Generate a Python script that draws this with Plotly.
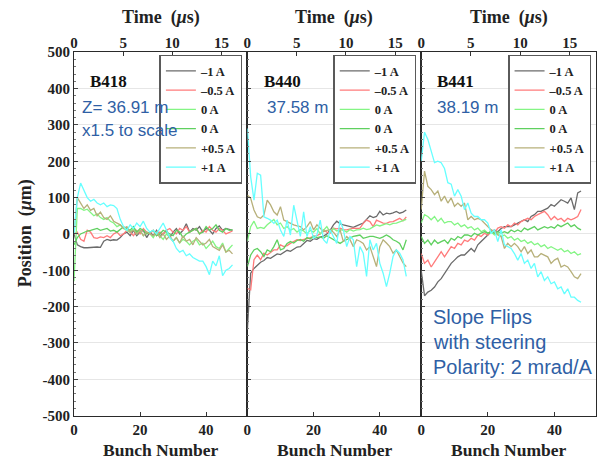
import plotly.graph_objects as go

# ---------------- data ----------------
bunch = list(range(49))
series_labels = ["–1 A", "–0.5 A", "0 A", "0 A", "+0.5 A", "+1 A"]
panel_names = ["B418", "B440", "B441"]
panel_notes = [["Z= 36.91 m", "x1.5 to scale"], ["37.58 m"], ["38.19 m"]]
side_notes = ["Slope Flips", "with steering", "Polarity: 2 mrad/A"]
y_tickvals = [-500, -400, -300, -200, -100, 0, 100, 200, 300, 400, 500]
y_ticktext = ["-500", "-400", "-300", "-200", "-100", "0", "100", "200", "300", "400", "500"]
bunch_ticks = [0, 20, 40]
time_ticks = [0, 5, 10, 15]

# B418
b418_m1 = [0, -30, -35, -38, -38, -37, -38, -36, -37, -20, -15, -18, -16, -17, -10, 0, 5, -5, 10, -5,
           5, 10, -10, 5, -5, 10, -5, 0, 10, -10, 5, 15, 0, 10, 28, 5, 15, 10, 20, 5,
           15, 10, 0, 15, 22, 10, 15, 12, 10]
b418_m05 = [0, 5, -15, -20, 10, 5, -10, -12, -8, -10, -5, -10, 0, 5, -5, 0, 10, 5, -5, 10,
            0, 15, 5, 0, 10, -5, 5, 0, 10, 15, 5, 0, 15, 10, 20, 5, 10, 15, 0, 10,
            5, 20, 10, 5, 15, 10, 0, 5, 8]
b418_0a = [-130, 70, 70, 65, 68, 60, 50, 55, 45, 40, 45, 35, 30, 20, 25, 15, 10, 5, 15, 0,
           10, -5, 5, 0, -10, 5, -5, -15, 0, -10, -20, -10, -25, -15, -20, -30, -20, -15, -30, -25,
           -40, -30, -20, -35, -40, -25, -50, -40, -30]
b418_0b = [-30, -10, 0, 5, 8, 10, 12, 15, 10, 12, 15, 8, 10, 5, 12, 20, 15, 10, 20, 5,
           15, 10, 0, 5, 10, -5, 0, 10, 5, 0, -5, 10, 5, -10, 0, 5, 10, 15, 0, 5,
           20, 10, 15, 25, 10, 5, 15, 10, 12]
b418_p05 = [0, 100, 85, 70, 80, 65, 70, 50, 60, 45, 40, 50, 35, 30, 25, 15, 20, 5, 10, 0,
            10, -5, 5, 0, -5, 5, -10, 0, -15, -5, -20, -10, -25, -5, -20, -15, -30, -10, -20, -30,
            -25, -15, -35, -40, -45, -30, -50, -45, -55]
b418_p1 = [0, 100, 140, 120, 100, 90, 95, 85, 80, 85, 75, 80, 78, 70, 40, 20, 10, 25, 15, 30,
           20, 35, 15, 5, 10, 0, 15, 30, 10, -10, -20, -40, -50, -45, -60, -55, -65, -70, -75, -75,
           -90, -112, -75, -88, -60, -115, -100, -95, -85]

# B440
b440_m1 = [-264, -108, -95, -85, -78, -73, -65, -67, -60, -55, -57, -50, -45, -48, -42, -36, -35, -25, -18, -20,
           -13, -15, -9, -6, 0, 10, 25, 35, 28, 25, 22, 20, 18, 22, 25, 30, 40, 50, 45, 48,
           62, 52, 57, 55, 58, 62, 57, 60, 66]
b440_m05 = [-150, -154, -71, -58, -71, -53, -58, -50, -44, -44, -30, -35, -32, -26, -22, -16, -18, -16, -14, -10,
            -7, -5, 0, 11, 5, 2, 16, 14, 16, 12, 11, 14, 16, 15, 16, 29, 38, 34, 20, 38,
            34, 30, 29, 33, 34, 38, 43, 36, 47]
b440_0a = [-20, 20, 35, 15, 18, 15, 25, 32, 40, 25, 30, 15, 20, 10, 15, 5, 12, 8, 0, 10,
           5, 15, 0, 10, 20, 5, 15, 8, 12, 10, 5, 12, 8, 11, 12, 16, 12, 14, 20, 25,
           22, 24, 28, 25, 29, 30, 34, 36, 40]
b440_0b = [-90, -58, -44, -40, -49, -62, -44, -49, -35, -16, -44, -40, -26, -21, -25, -18, -15, -20, -10, -14,
           -6, -10, -8, -12, -5, -10, -16, -20, -26, -20, -16, -10, -7, -5, -3, -12, -9, -7, -7, -10,
           -12, -8, -3, -8, -16, -20, -26, -44, -16]
b440_p05 = [107, 98, 66, 47, 43, 52, 93, 80, 61, 52, 75, 38, 34, 29, 25, 22, 20, 11, 20, 34,
            11, 25, 15, 6, 10, 11, 5, -7, 11, -21, -7, -16, -35, -16, -20, -26, -44, -35, -62, -90,
            -35, -16, -25, -35, -53, -44, -62, -80, -90]
b440_p1 = [290, 157, 93, 167, 162, 47, 43, 38, 29, 38, 11, -7, 38, -3, 79, 34, -7, 61, -7, 20,
           -12, -3, 38, -16, -26, 11, -7, -26, 38, 11, -35, -7, -16, -90, -35, -53, -117, -16, -44, -26,
           -81, -108, -145, -108, -62, -44, -53, -71, -117]

# B441
b441_m1 = [-100, -170, -160, -155, -146, -132, -123, -109, -95, -81, -72, -63, -58, -58, -49, -40, -49, -30, -21, -12,
           -3, 6, 11, 6, 15, 20, 20, 20, 25, 30, 34, 39, 34, 48, 53, 62, 62, 67, 71, 81,
           76, 85, 94, 90, 85, 99, 67, 113, 118]
b441_m05 = [-54, -81, -72, -91, -77, -63, -49, -63, -49, -35, -40, -26, -30, -17, -21, -12, -17, -3, -7, 2,
            -3, 11, 2, 16, 20, 16, 25, 20, 30, 25, 34, 39, 43, 39, 48, 53, 57, 62, 53, 39,
            48, 39, 43, 34, 43, 39, 43, 48, 67]
b441_0a = [30, 53, 48, 39, 48, 34, 43, 30, 34, 34, 25, 30, 20, 25, 16, 20, 11, 16, 6, 11,
           2, 6, -3, 2, -7, -3, -12, -7, -17, -12, -21, -17, -26, -21, -30, -26, -35, -30, -40, -35,
           -40, -45, -40, -49, -45, -54, -49, -58, -54]
b441_0b = [-7, -26, -17, -30, -17, -26, -21, -17, -26, -12, -17, -7, -12, -3, -3, -7, 2, -3, 2, 6,
           2, 6, 2, 6, 2, 6, 2, 11, 6, 11, 6, 16, 11, 16, 20, 11, 16, 20, 16, 20,
           16, 25, 20, 25, 30, 20, 25, 16, 11]
b441_p05 = [67, 173, 131, 122, 108, 118, 90, 104, 85, 99, 76, 85, 76, 85, 39, 48, 39, 43, 39, 30,
            20, 11, 7, -3, -7, -40, -26, -35, -26, -35, -49, -35, -54, -44, -63, -63, -54, -58, -63, -81,
            -72, -67, -91, -86, -91, -104, -118, -123, -109]
b441_p1 = [200, 280, 260, 225, 196, 200, 196, 180, 141, 137, 104, 122, 104, 67, 85, 57, 48, 48, 39, 39,
           30, 2, 11, -21, 11, -30, -35, -40, -54, -72, -54, -81, -72, -95, -81, -118, -104, -128, -118, -137,
           -132, -151, -146, -165, -151, -174, -174, -183, -188]

panels = [
    [b418_m1, b418_m05, b418_0a, b418_0b, b418_p05, b418_p1],
    [b440_m1, b440_m05, b440_0a, b440_0b, b440_p05, b440_p1],
    [b441_m1, b441_m05, b441_0a, b441_0b, b441_p05, b441_p1],
]

# ---------------- style / layout ----------------
W, H = 600, 464
colors = ["#6b6b6b", "#ff7b7b", "#84f584", "#5fd05f", "#b7b07a", "#66ffff"]
px_edges = [70.5, 245, 420, 596]
top_px, bot_px = 45.8, 422.2
bunch_range = [0, 52.5]
time_range = [0, 17.64]
blue = "#2f5fa5"
serif = "Liberation Serif"
tick_font = dict(family=serif, size=15, color="#222222", weight="bold")

def px(x):
    return x / W

def py(y):
    return 1 - y / H

fig = go.Figure()
layout = dict(width=W, height=H, autosize=False, margin=dict(l=0, r=0, t=0, b=0, pad=0),
              paper_bgcolor="white", plot_bgcolor="white", showlegend=True)

for i, series in enumerate(panels):
    n = "" if i == 0 else str(i + 1)
    xa, ya = "x" + n, "y" + n
    ta = "x" + str(i + 4)
    leg = "legend" + n
    for s, vals in enumerate(series):
        fig.add_trace(go.Scatter(x=bunch, y=vals, mode="lines", name=series_labels[s],
                                 line=dict(color=colors[s], width=1.3),
                                 xaxis=xa, yaxis=ya, legend=leg))
    fig.add_trace(go.Scatter(x=[None], y=[None], xaxis=ta, yaxis=ya, showlegend=False,
                             hoverinfo="skip"))
    dom = [px(px_edges[i]), px(px_edges[i + 1])]
    layout["xaxis" + n] = dict(domain=dom, range=bunch_range, tickvals=bunch_ticks, anchor=ya,
                               showline=True, linecolor="#2a2a2a", linewidth=1.2, mirror=True,
                               ticks="inside", ticklen=4, tickcolor="#333", showgrid=False,
                               zeroline=False, tickfont=tick_font)
    layout["yaxis" + n] = dict(domain=[py(bot_px), py(top_px)], range=[-500, 500],
                               tickmode="array", tickvals=y_tickvals, ticktext=y_ticktext,
                               showticklabels=(i == 0), anchor=xa,
                               showline=True, linecolor="#2a2a2a", linewidth=1.2, mirror=True,
                               ticks="inside", ticklen=4, tickcolor="#444",
                               minor=dict(ticks="inside", ticklen=2, tickcolor="#777", dtick=20,
                                          showgrid=False),
                               showgrid=True, gridcolor="#e6e6e6", gridwidth=1,
                               zeroline=False, tickfont=tick_font)
    layout["xaxis" + str(i + 4)] = dict(overlaying=xa, anchor=ya, side="top", range=time_range,
                                        tickvals=time_ticks, ticks="inside", ticklen=4,
                                        tickcolor="#333", showline=False, showgrid=False,
                                        zeroline=False, tickfont=tick_font)
    layout[leg] = dict(x=px(px_edges[i + 1] - 5), y=py(48.4), xanchor="right", yanchor="top",
                       xref="paper", yref="paper",
                       bgcolor="white", bordercolor="#5a5a5a", borderwidth=1.5,
                       font=dict(family=serif, size=12.5, color="#222", weight="bold"),
                       itemwidth=30, tracegroupgap=0)

annotations = []
centers = [(px_edges[i] + px_edges[i + 1]) / 2 for i in range(3)]

def ann(x, y, text, font, xanchor="center", **kw):
    d = dict(x=px(x), y=py(y), xref="paper", yref="paper", text=text, showarrow=False,
             xanchor=xanchor, yanchor="middle", font=font)
    d.update(kw)
    return d

title_font = dict(family=serif, size=18, color="#222")
for i in range(3):
    annotations.append(ann(centers[i], 9.5, "<b>Time  (<i>μ</i>s)</b>", title_font))
    annotations.append(ann(centers[i], 458, "<b>Bunch Number</b>",
                           dict(family=serif, size=17.5, color="#222")))
annotations.append(ann(22, 233.5, "<b>Position  (<i>μ</i>m)</b>",
                       dict(family=serif, size=18, color="#222"), textangle=-90))
name_x = [105.5, 280.5, 454.5]
note_x = [76.5, 262.5, 433.5]
for i in range(3):
    annotations.append(ann(name_x[i], 76.3, "<b>" + panel_names[i] + "</b>",
                           dict(family=serif, size=17, color="#111")))
    for k, t in enumerate(panel_notes[i]):
        annotations.append(ann(note_x[i], 103.2 + 23.8 * k, t,
                               dict(family="Liberation Sans", size=17, color=blue),
                               xanchor="left"))
for k, t in enumerate(side_notes):
    annotations.append(ann(429.5, 320.4 + 25.9 * k, t,
                           dict(family="Liberation Sans", size=20, color=blue),
                           xanchor="left"))
layout["annotations"] = annotations

fig.update_layout(**layout)
fig.write_html("out.html", config={"displayModeBar": False},
               post_script="document.body.style.margin='0px';")
